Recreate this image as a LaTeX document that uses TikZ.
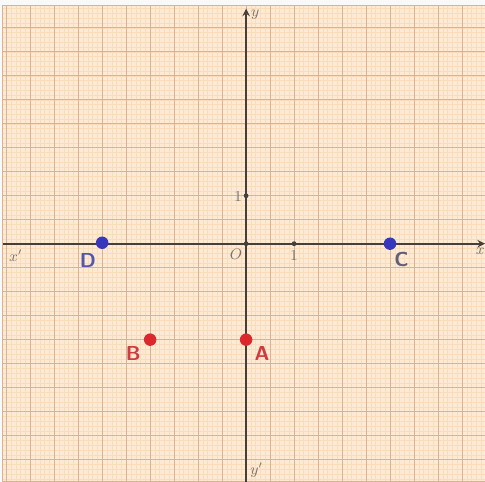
\documentclass[tikz,border=0pt]{standalone}
\usepackage{xcolor}
\definecolor{paper}{RGB}{252,234,212}
\definecolor{minorline}{RGB}{249,220,188}
\definecolor{majorline}{RGB}{218,180,142}
\definecolor{axisgray}{RGB}{70,62,55}
\definecolor{labelgray}{RGB}{120,115,110}
\definecolor{ptred}{RGB}{220,40,45}
\definecolor{ptblue}{RGB}{55,55,190}
\definecolor{lblred}{RGB}{205,60,65}
\definecolor{lblblue}{RGB}{85,85,170}
\definecolor{lblgray}{RGB}{95,95,120}
\tikzset{
    pt/.style={circle, inner sep=0pt, minimum size=0.26cm},
    ptlabel/.style={font=\sffamily\bfseries\large, inner sep=0pt},
    axlabel/.style={text=labelgray, font=\small, inner sep=0pt}
}
\begin{document}
\begin{tikzpicture}
    \useasboundingbox (-5.13,-4.96) rectangle (4.98,5.08);
    \fill[white!95!gray] (-5.13,-4.96) rectangle (4.98,5.08);

    % Graph paper
    \fill[paper] (-5.07,-4.96) rectangle (4.98,4.96);
    \draw[minorline, line width=0.3pt] (-5.07,-4.96) grid[step=0.1] (4.98,4.96);
    \draw[majorline, line width=0.5pt] (-5.07,-4.96) grid[step=0.5] (4.98,4.96);
    \draw[majorline, line width=0.6pt] (-5.07,-4.96) rectangle (4.98,4.96);

    % Axes
    \coordinate (xl) at (-5.07,0);
    \coordinate (xr) at (4.98,0);
    \coordinate (yb) at (0,-4.96);
    \coordinate (yt) at (0,4.9);
    \draw[axisgray, line width=1pt, ->, >=stealth] (xl) -- (xr);
    \draw[axisgray, line width=1pt, ->, >=stealth] (yb) -- (yt);

    % Axis labels
    \node[axlabel] (lx) at (4.88,-0.16) {$x$};
    \node[axlabel] (lxp) at (-4.8,-0.25) {$x'$};
    \node[axlabel] (ly) at (0.19,4.78) {$y$};
    \node[axlabel] (lyp) at (0.22,-4.72) {$y'$};
    \node[axlabel] (lo) at (-0.21,-0.23) {$O$};

    % Tick marks
    \fill[axisgray] (1,0) circle (0.05);
    \fill[axisgray] (0,1) circle (0.05);
    \fill[axisgray] (0,0) circle (0.05);
    \node[axlabel] (lxone) at (1,-0.25) {$1$};
    \node[axlabel] (lyone) at (-0.17,0.98) {$1$};

    % Points
    \node[pt, fill=ptred] (A) at (0,-2) {};
    \node[pt, fill=ptred] (B) at (-2,-2) {};
    \node[pt, fill=ptblue] (C) at (3,0) {};
    \node[pt, fill=ptblue] (D) at (-3,0.02) {};

    % Point names
    \node[ptlabel, text=lblred] (nA) at (0.33,-2.28) {A};
    \node[ptlabel, text=lblred] (nB) at (-2.35,-2.28) {B};
    \node[ptlabel, text=lblgray] (nC) at (3.24,-0.32) {C};
    \node[ptlabel, text=lblblue] (nD) at (-3.3,-0.34) {D};
\end{tikzpicture}
\end{document}
